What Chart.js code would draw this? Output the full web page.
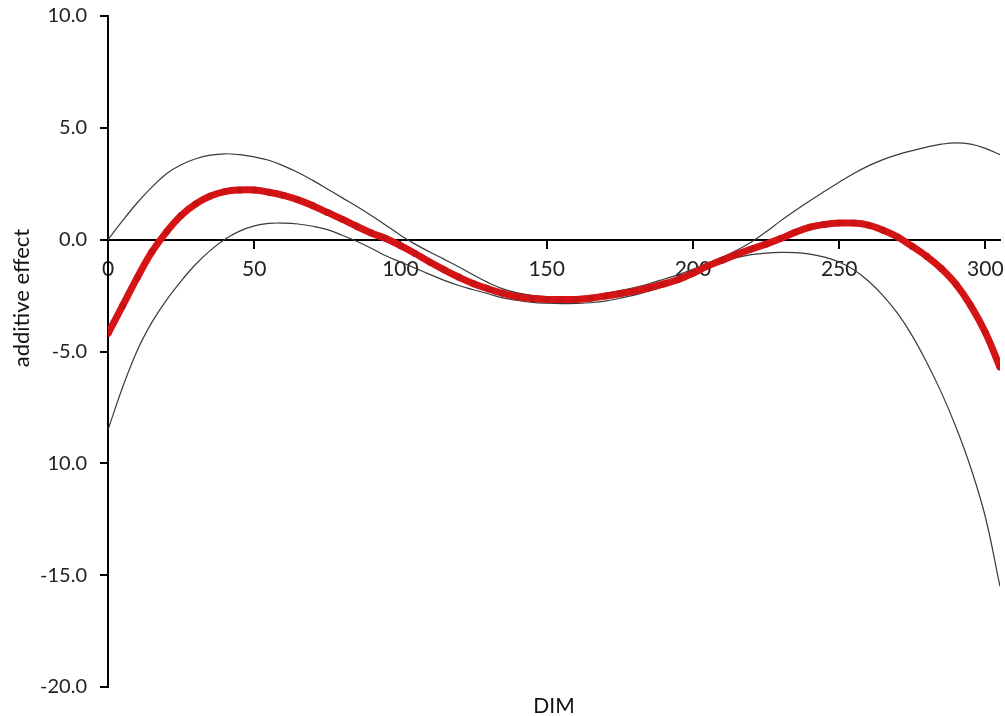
<!DOCTYPE html>
<html>
<head>
<meta charset="utf-8">
<script src="https://cdn.jsdelivr.net/npm/chart.js@4/dist/chart.umd.min.js"></script>
<style>
  html, body { margin: 0; padding: 0; background: #ffffff; }
  #wrap { width: 1005px; height: 716px; }
</style>
</head>
<body>
<div id="wrap"><canvas id="c" width="1005" height="716"></canvas></div>
<script>
// ---- data ----
const dimValues = [0,5,10,15,20,25,30,35,40,45,50,55,60,65,70,75,80,85,90,95,100,105,110,115,120,125,130,135,140,145,150,155,160,165,170,175,180,185,190,195,200,205,210,215,220,225,230,235,240,245,250,255,260,265,270,275,280,285,290,295,300,305];

const effectValues = [-4.2,-2.95,-1.7,-0.55,0.35,1.08,1.6,1.95,2.15,2.22,2.22,2.12,1.98,1.78,1.52,1.22,0.92,0.6,0.3,0.05,-0.27,-0.62,-1.0,-1.35,-1.68,-1.97,-2.2,-2.4,-2.55,-2.63,-2.67,-2.68,-2.67,-2.62,-2.52,-2.42,-2.3,-2.15,-1.98,-1.78,-1.5,-1.18,-0.92,-0.65,-0.42,-0.2,0.05,0.33,0.56,0.68,0.74,0.74,0.65,0.42,0.12,-0.3,-0.75,-1.3,-2.0,-2.95,-4.15,-5.7];

const upperValues = [0.0,0.85,1.65,2.35,2.95,3.35,3.62,3.78,3.84,3.8,3.7,3.55,3.3,3.0,2.65,2.27,1.88,1.49,1.08,0.65,0.2,-0.2,-0.55,-0.88,-1.22,-1.58,-1.92,-2.2,-2.38,-2.49,-2.55,-2.57,-2.56,-2.5,-2.4,-2.28,-2.14,-1.97,-1.77,-1.56,-1.32,-1.06,-0.78,-0.47,-0.1,0.35,0.84,1.3,1.74,2.16,2.57,2.96,3.3,3.58,3.8,3.98,4.14,4.27,4.33,4.27,4.08,3.8];

const lowerValues = [-8.5,-6.6,-4.95,-3.7,-2.7,-1.85,-1.1,-0.48,0.02,0.38,0.62,0.73,0.74,0.7,0.6,0.45,0.2,-0.07,-0.38,-0.72,-1.0,-1.27,-1.55,-1.82,-2.05,-2.24,-2.42,-2.6,-2.72,-2.8,-2.84,-2.86,-2.85,-2.82,-2.75,-2.62,-2.48,-2.3,-2.1,-1.85,-1.6,-1.3,-1.02,-0.8,-0.67,-0.6,-0.57,-0.58,-0.65,-0.78,-1.0,-1.35,-1.85,-2.5,-3.3,-4.3,-5.5,-6.85,-8.4,-10.2,-12.4,-15.5];

const yTickValues = [10, 5, 0, -5, -10, -15, -20];
const yTickLabels = ["10.0", "5.0", "0.0", "-5.0", "10.0", "-15.0", "-20.0"];
const xTickValues = [0, 50, 100, 150, 200, 250, 300];
const xTickLabels = ["0", "50", "100", "150", "200", "250", "300"];
const xAxisTitle = "DIM";
const yAxisTitle = "additive effect";

function pts(ys) { return dimValues.map((x, i) => ({ x: x, y: ys[i] })); }

const FONT = "Lato, 'Open Sans', 'Liberation Sans', sans-serif";

const titlePlugin = {
  id: 'axisTitles',
  afterDraw(chart) {
    const ctx = chart.ctx;
    const area = chart.chartArea;
    ctx.save();
    ctx.fillStyle = '#111';
    ctx.textAlign = 'center';
    ctx.textBaseline = 'alphabetic';
    ctx.font = "21px " + FONT;
    ctx.fillText(xAxisTitle, (area.left + area.right) / 2, 713);
    ctx.translate(29, 298);
    ctx.rotate(-Math.PI / 2);
    ctx.font = "22px " + FONT;
    ctx.fillText(yAxisTitle, 0, 0);
    ctx.restore();
  }
};

new Chart(document.getElementById('c'), {
  type: 'scatter',
  data: {
    datasets: [
      {
        label: 'upper',
        data: pts(upperValues),
        showLine: true,
        borderColor: '#3a3a3a',
        borderWidth: 1.2,
        pointRadius: 0,
        tension: 0.4,
        order: 2
      },
      {
        label: 'lower',
        data: pts(lowerValues),
        showLine: true,
        borderColor: '#3a3a3a',
        borderWidth: 1.2,
        pointRadius: 0,
        tension: 0.4,
        order: 2
      },
      {
        label: 'additive effect',
        data: pts(effectValues),
        showLine: true,
        borderColor: 'rgb(214,20,22)',
        backgroundColor: 'rgb(200,18,20)',
        borderWidth: 7,
        pointRadius: 3.4,
        pointBorderWidth: 0,
        tension: 0.4,
        order: 1
      }
    ]
  },
  options: {
    responsive: false,
    animation: false,
    events: [],
    layout: { padding: { left: 0, right: 5, top: 16, bottom: 29 } },
    plugins: { legend: { display: false }, tooltip: { enabled: false } },
    scales: {
      x: {
        type: 'linear',
        min: 0,
        max: 305,
        position: { y: 0 },
        afterFit(scale) { scale.paddingLeft = 0; scale.paddingRight = 0; },
        afterBuildTicks(scale) { scale.ticks = xTickValues.map(v => ({ value: v })); },
        ticks: {
          autoSkip: false,
          maxRotation: 0,
          padding: 9,
          color: '#222',
          font: { family: FONT, size: 21 },
          callback(value) { const i = xTickValues.indexOf(value); return i >= 0 ? xTickLabels[i] : ''; }
        },
        grid: { display: true, drawOnChartArea: false, drawTicks: true, tickLength: 8, color: '#000', lineWidth: 2 },
        border: { display: true, color: '#000', width: 2 }
      },
      y: {
        type: 'linear',
        min: -20,
        max: 10,
        afterFit(scale) { scale.width = 108; scale.paddingTop = 0; scale.paddingBottom = 0; },
        afterBuildTicks(scale) { scale.ticks = yTickValues.map(v => ({ value: v })); },
        ticks: {
          autoSkip: false,
          padding: 13,
          color: '#222',
          font: { family: FONT, size: 20 },
          callback(value) { const i = yTickValues.indexOf(value); return i >= 0 ? yTickLabels[i] : ''; }
        },
        grid: { display: true, drawOnChartArea: false, drawTicks: true, tickLength: 8, color: '#000', lineWidth: 2 },
        border: { display: true, color: '#000', width: 2 }
      }
    }
  },
  plugins: [titlePlugin]
});
</script>
</body>
</html>
